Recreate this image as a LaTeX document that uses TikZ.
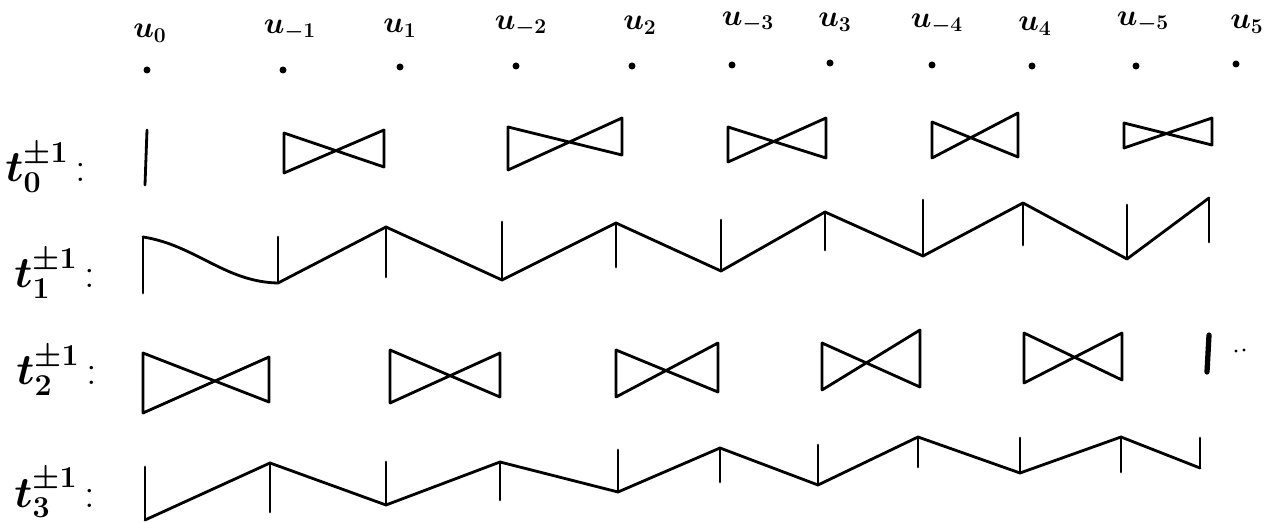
\documentclass[tikz,border=0pt]{standalone}
\usepackage{amsmath, amssymb}
\usetikzlibrary{positioning}

\begin{document}
\begin{tikzpicture}[
      x=0.02cm, y=-0.02cm,
      pen/.style={line width=1.6pt, line cap=round, line join=round},
      dot/.style={circle, fill, inner sep=0pt, minimum size=0.14cm},
      ulabel/.style={inner sep=0pt, font=\fontsize{17}{20}\selectfont\boldmath},
      tlabel/.style={inner sep=0pt, anchor=base west, font=\fontsize{24}{28}\selectfont\boldmath}
    ]
    \useasboundingbox (0,0) rectangle (1271,523);

    % the points u_i with their labels
    \foreach \n/\s/\lx/\ly/\dx/\dy in {0/0/150/33/147/70, m1/-1/290/30/283/70, 1/1/400/28/400/67,
        m2/-2/521/26/516/66, 2/2/640/25/632/66, m3/-3/748/22/732/65, 3/3/835/22/830/63,
        m4/-4/937/24/932/65, 4/4/1035/26/1032/66, m5/-5/1143/22/1136/66, 5/5/1247/24/1236/64}{
      \node[ulabel] (u\n) at (\lx,\ly) {$u_{\s}$};
      \node[dot] (d\n) at (\dx,\dy) {};
    }

    % row labels
    \node[tlabel] (t0) at (5,182) {$t_0^{\pm1}$\,:};
    \node[tlabel] (t1) at (14,288) {$t_1^{\pm1}$\,:};
    \node[tlabel] (t2) at (16,385) {$t_2^{\pm1}$\,:};
    \node[tlabel] (t3) at (14,507) {$t_3^{\pm1}$\,:};

    % t_0
    \draw[pen] (147,130) -- (145,185);
    \foreach \xa/\ta/\ba/\xb/\tb/\bb in {284/133/173/384/130/167, 508/127/170/622/118/155,
        728/127/162/826/118/158, 932/122/158/1018/113/157, 1124/123/148/1212/118/145}
      \draw[pen] (\xa,\ta) -- (\xa,\ba) -- (\xb,\tb) -- (\xb,\bb) -- cycle;

    % t_1
    \foreach \i/\x/\yt/\yb in {1/143/237/293, 2/278/237/283, 3/386/227/277, 4/502/222/280,
        5/616/223/267, 6/721/220/271, 7/825/212/250, 8/923/200/256, 9/1023/203/245,
        10/1127/205/259, 11/1209/198/242}{
      \coordinate (p\i) at (\x,\yt);
      \coordinate (q\i) at (\x,\yb);
      \draw[pen] (p\i) -- (q\i);
    }
    \draw[pen] (p1) .. controls (195,245) and (225,282) .. (q2) -- (p3) -- (q4) -- (p5)
      -- (q6) -- (p7) -- (q8) -- (p9) -- (q10) -- (p11);

    % t_2
    \foreach \xa/\ta/\ba/\xb/\tb/\bb in {143/353/413/269/357/402, 390/350/403/500/353/397,
        616/350/397/718/343/392, 822/343/390/920/330/387, 1024/333/383/1122/333/380}
      \draw[pen] (\xa,\ta) -- (\xa,\ba) -- (\xb,\tb) -- (\xb,\bb) -- cycle;
    \draw[pen, line width=3pt] (1209,335) -- (1207,372);
    \fill (1236,351) circle (0.9pt) (1244,350) circle (0.9pt);

    % t_3
    \foreach \i/\x/\yt/\yb in {1/145/467/520, 2/270/463/512, 3/386/462/505, 4/500/462/500,
        5/618/450/492, 6/720/448/482, 7/818/445/485, 8/918/437/467, 9/1020/438/473,
        10/1121/437/472, 11/1200/438/468}{
      \coordinate (r\i) at (\x,\yt);
      \coordinate (s\i) at (\x,\yb);
      \draw[pen] (r\i) -- (s\i);
    }
    \draw[pen] (s1) -- (r2) -- (s3) -- (r4) -- (s5) -- (r6) -- (s7) -- (r8) -- (s9)
      -- (r10) -- (s11);
\end{tikzpicture}
\end{document}
